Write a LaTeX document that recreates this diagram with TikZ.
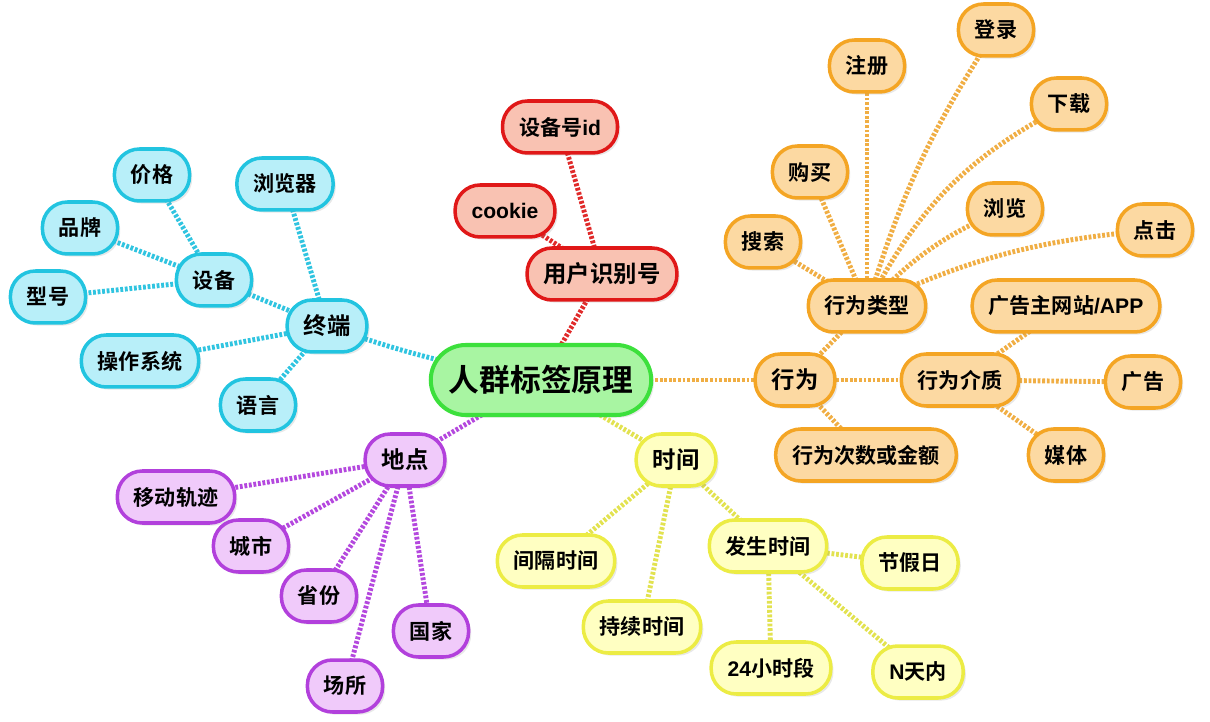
\documentclass[tikz,border=0pt]{standalone}
\usepackage{fontspec}
\setmainfont{Noto Sans CJK SC}[BoldFont={Noto Sans CJK SC Bold}]
\newfontfamily\lat{Liberation Sans}
\usetikzlibrary{shadows}
\definecolor{grF}{HTML}{A8F5A2}\definecolor{grD}{HTML}{3CE03C}
\definecolor{cyF}{HTML}{B8EFF9}\definecolor{cyD}{HTML}{22C4E0}\definecolor{cyL}{HTML}{30C4E0}
\definecolor{rdF}{HTML}{F9C2B2}\definecolor{rdD}{HTML}{E01818}\definecolor{rdL}{HTML}{E02A2A}
\definecolor{orF}{HTML}{FCD9A2}\definecolor{orD}{HTML}{F4A524}\definecolor{orL}{HTML}{F0AE44}
\definecolor{yeF}{HTML}{FFFFC2}\definecolor{yeD}{HTML}{ECEC44}\definecolor{yeL}{HTML}{E2E250}
\definecolor{puF}{HTML}{F0CAFA}\definecolor{puD}{HTML}{B240DC}\definecolor{puL}{HTML}{B448DE}
\pgfdeclarelayer{bg}\pgfsetlayers{bg,main}
\tikzset{
  base/.style={rounded corners=0.5cm, line width=2pt, minimum height=1.04cm,
    inner xsep=0.33cm, inner ysep=0pt, text=black,
    font=\fontsize{12}{13}\selectfont\bfseries,
    drop shadow={shadow xshift=1.5pt, shadow yshift=-1.5pt, opacity=0.18}},
  big/.style={font=\fontsize{13.3}{14}\selectfont\bfseries},
  gr/.style={base, fill=grF, draw=grD},
  cy/.style={base, fill=cyF, draw=cyD},
  rd/.style={base, fill=rdF, draw=rdD},
  or/.style={base, fill=orF, draw=orD},
  ye/.style={base, fill=yeF, draw=yeD},
  pu/.style={base, fill=puF, draw=puD},
  link/.style={line width=2.8pt, dash pattern=on 1.6pt off 1.0pt},
}
\begin{document}
\begin{tikzpicture}[x=0.02cm,y=-0.02cm]
\useasboundingbox (0,0) rectangle (1210,722);
% root
\node[gr, rounded corners=0.7cm, minimum height=1.4cm, inner xsep=0.36cm, line width=2.3pt,
  font=\fontsize{17.5}{19}\selectfont\bfseries] (root) at (541,380) {人群标签原理};
% cyan
\node[cy,big] (zd) at (327,326) {终端};
\node[cy] (sb) at (214,280) {设备};
\node[cy] (jg) at (152,175) {价格};
\node[cy] (pp) at (80,228) {品牌};
\node[cy] (xh) at (48,297) {型号};
\node[cy] (llq) at (285,184) {浏览器};
\node[cy] (czxt) at (140,361) {操作系统};
\node[cy] (yy) at (258,405) {语言};
% red
\node[rd,big] (yhsbh) at (602,274) {用户识别号};
\node[rd] (sbhid) at (560,127) {设备号{\lat id}};
\node[rd] (cookie) at (505,211) {{\lat cookie}};
% orange
\node[or,big] (xw) at (795,380) {行为};
\node[or] (xwlx) at (867,306) {行为类型};
\node[or] (zc) at (867,66) {注册};
\node[or] (dl) at (996,30) {登录};
\node[or] (xz) at (1069,104) {下载};
\node[or] (gm) at (810,172) {购买};
\node[or] (ll) at (1005,209) {浏览};
\node[or] (ss) at (763,242) {搜索};
\node[or] (dj) at (1155,230) {点击};
\node[or] (ggz) at (1066,306) {广告主网站{\lat /APP}};
\node[or] (xwjz) at (960,380) {行为介质};
\node[or] (gg) at (1143,382) {广告};
\node[or] (mt) at (1066,455) {媒体};
\node[or] (xwcs) at (866,455) {行为次数或金额};
% yellow
\node[ye,big] (sj) at (676,460) {时间};
\node[ye] (jgsj) at (556,561) {间隔时间};
\node[ye] (cxsj) at (642,627) {持续时间};
\node[ye] (fssj) at (768,546) {发生时间};
\node[ye] (jjr) at (910,563) {节假日};
\node[ye] (xsd) at (771,668) {{\lat 24}小时段};
\node[ye] (ntn) at (918,672) {{\lat N}天内};
% purple
\node[pu,big] (dd) at (405,460) {地点};
\node[pu] (ydgj) at (176,497) {移动轨迹};
\node[pu] (cs) at (251,546) {城市};
\node[pu] (sf) at (319,596) {省份};
\node[pu] (gj) at (431,631) {国家};
\node[pu] (cscs) at (345,686) {场所};
\begin{pgfonlayer}{bg}
\draw[link,cyL] (root.center) to[bend left=5] (zd.center);
\draw[link,cyL] (zd.center) -- (sb.center);
\draw[link,cyL] (zd.center) -- (llq.center);
\draw[link,cyL] (zd.center) -- (czxt.center);
\draw[link,cyL] (zd.center) -- (yy.center);
\draw[link,cyL] (sb.center) -- (jg.center);
\draw[link,cyL] (sb.center) -- (pp.center);
\draw[link,cyL] (sb.center) -- (xh.center);
\draw[link,rdL] (root.center) -- (yhsbh.center);
\draw[link,rdL] (yhsbh.center) -- (sbhid.center);
\draw[link,rdL] (yhsbh.center) -- (cookie.center);
\draw[link,orL] (root.center) -- (xw.center);
\draw[link,orL] (xw.center) -- (xwlx.center);
\draw[link,orL] (xw.center) -- (xwjz.center);
\draw[link,orL] (xw.center) -- (xwcs.center);
\draw[link,orL] (xwjz.center) -- (ggz.center);
\draw[link,orL] (xwjz.center) -- (gg.center);
\draw[link,orL] (xwjz.center) -- (mt.center);
\draw[link,orL] (xwlx.center) -- (zc.center);
\draw[link,orL] (xwlx.center) -- (gm.center);
\draw[link,orL] (xwlx.center) -- (ss.center);
\draw[link,orL] (xwlx.center) to[bend left=8] (dl.center);
\draw[link,orL] (xwlx.center) to[bend left=18] (xz.center);
\draw[link,orL] (xwlx.center) to[bend left=12] (ll.center);
\draw[link,orL] (xwlx.center) to[bend left=10] (dj.center);
\draw[link,yeL] (root.center) -- (sj.center);
\draw[link,yeL] (sj.center) -- (jgsj.center);
\draw[link,yeL] (sj.center) -- (cxsj.center);
\draw[link,yeL] (sj.center) -- (fssj.center);
\draw[link,yeL] (fssj.center) -- (jjr.center);
\draw[link,yeL] (fssj.center) -- (xsd.center);
\draw[link,yeL] (fssj.center) -- (ntn.center);
\draw[link,puL] (root.center) -- (dd.center);
\draw[link,puL] (dd.center) -- (ydgj.center);
\draw[link,puL] (dd.center) -- (cs.center);
\draw[link,puL] (dd.center) -- (sf.center);
\draw[link,puL] (dd.center) -- (gj.center);
\draw[link,puL] (dd.center) -- (cscs.center);
\end{pgfonlayer}
\end{tikzpicture}
\end{document}
